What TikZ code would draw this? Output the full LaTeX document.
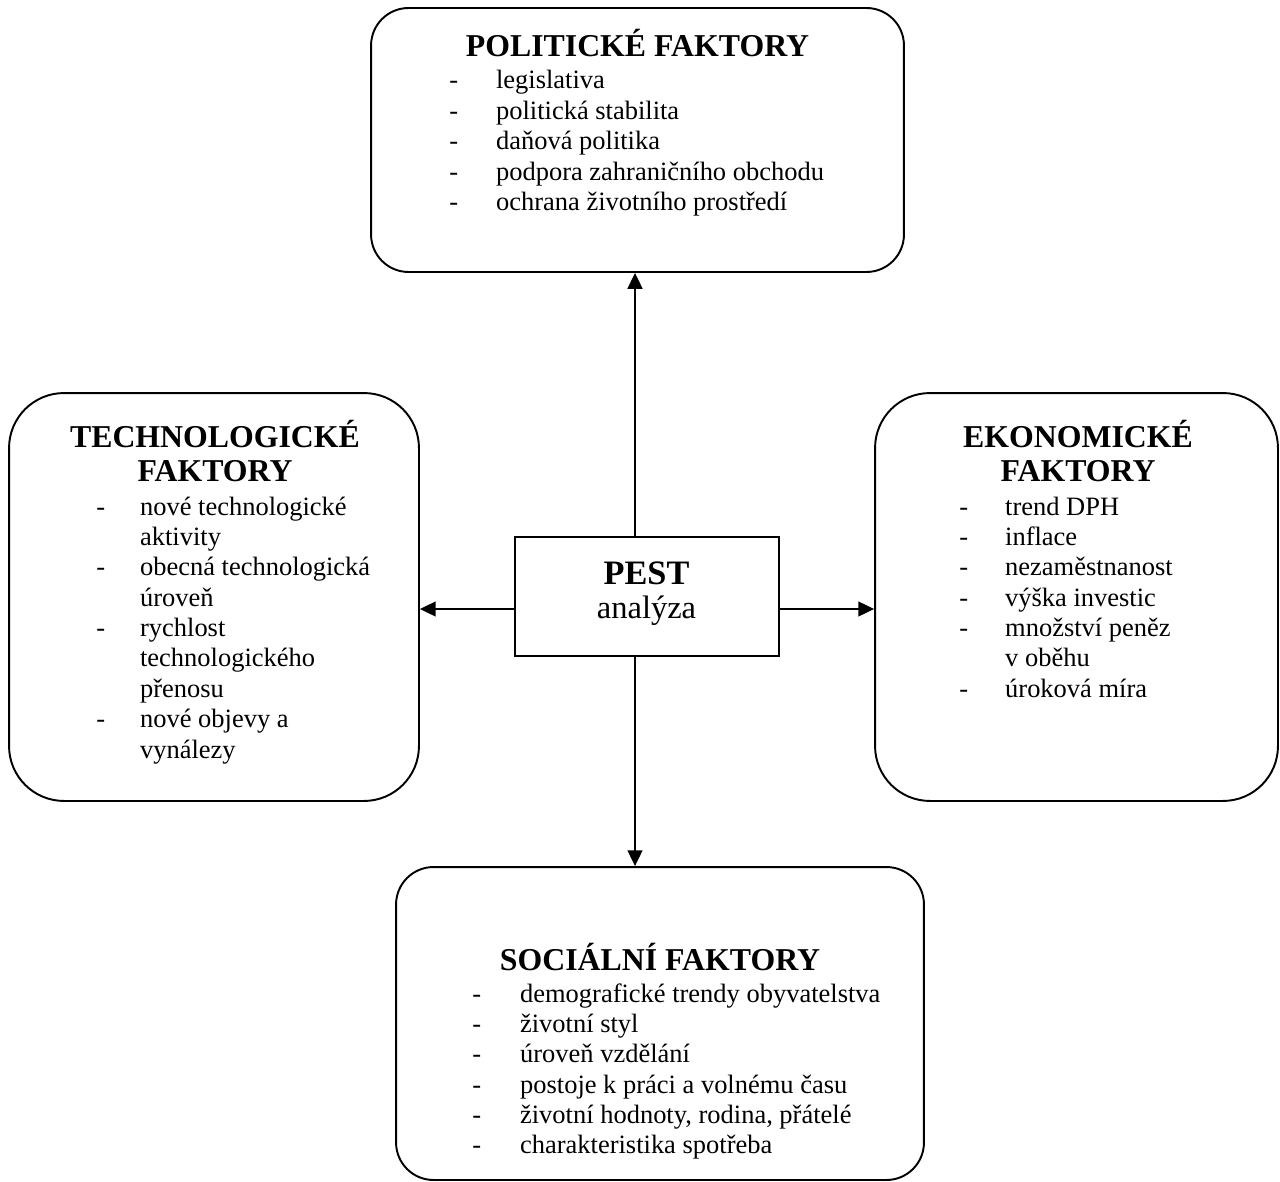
\documentclass[tikz,border=0pt]{standalone}
\usepackage{fontspec}
\setmainfont{Liberation Serif}
\usetikzlibrary{arrows.meta}

\tikzset{
  ramec/.style={draw, line width=1.1pt, inner sep=0pt, rounded corners=#1},
  nadpis/.style={anchor=base, inner sep=0pt, font=\fontsize{18.1}{19.8}\selectfont\bfseries},
  seznam/.style={anchor=base west, inner sep=0pt, font=\fontsize{15.07}{17.3}\selectfont},
  sipka/.style={line width=0.9pt, -{Triangle[length=9pt,width=8.5pt]}}
}

\begin{document}
\begin{tikzpicture}[x=0.02cm, y=-0.02cm]
  \useasboundingbox (0,0) rectangle (1280,1182);

  \node (pol) [ramec=0.75cm, minimum width=10.66cm, minimum height=5.28cm] at (637.5,140) {};
  \node (tech) [ramec=1.1cm, minimum width=8.2cm, minimum height=8.16cm] at (214,597) {};
  \node (eko) [ramec=1.1cm, minimum width=8.06cm, minimum height=8.16cm] at (1076.5,597) {};
  \node (soc) [ramec=0.75cm, minimum width=10.56cm, minimum height=6.26cm] at (660,1023.5) {};
  \node (pest) [ramec=0cm, minimum width=5.28cm, minimum height=2.38cm] at (647,596.5) {};

  \node (polN) [nadpis] at (637.5,57) {\begin{tabular}[t]{@{}c@{}}POLITICKÉ FAKTORY\end{tabular}};
  \node (polS) [seznam] at (449,89) {\begin{tabular}[t]{@{}p{26.6pt}@{}l@{}}
    - & legislativa\\
    - & politická stabilita\\
    - & daňová politika\\
    - & podpora zahraničního obchodu\\
    - & ochrana životního prostředí
  \end{tabular}};

  \node (techN) [nadpis] at (215,447) {\begin{tabular}[t]{@{}c@{}}TECHNOLOGICKÉ\\ FAKTORY\end{tabular}};
  \node (techS) [seznam] at (96,515) {\begin{tabular}[t]{@{}p{24.9pt}@{}l@{}}
    - & nové technologické\\
      & aktivity\\
    - & obecná technologická\\
      & úroveň\\
    - & rychlost\\
      & technologického\\
      & přenosu\\
    - & nové objevy a\\
      & vynálezy
  \end{tabular}};

  \node (ekoN) [nadpis] at (1078,447) {\begin{tabular}[t]{@{}c@{}}EKONOMICKÉ\\ FAKTORY\end{tabular}};
  \node (ekoS) [seznam] at (959,515) {\begin{tabular}[t]{@{}p{26.1pt}@{}l@{}}
    - & trend DPH\\
    - & inflace\\
    - & nezaměstnanost\\
    - & výška investic\\
    - & množství peněz\\
      & v oběhu\\
    - & úroková míra
  \end{tabular}};

  \node (socN) [nadpis] at (660,970) {\begin{tabular}[t]{@{}c@{}}SOCIÁLNÍ FAKTORY\end{tabular}};
  \node (socS) [seznam] at (472,1002) {\begin{tabular}[t]{@{}p{27.2pt}@{}l@{}}
    - & demografické trendy obyvatelstva\\
    - & životní styl\\
    - & úroveň vzdělání\\
    - & postoje k práci a volnému času\\
    - & životní hodnoty, rodina, přátelé\\
    - & charakteristika spotřeba
  \end{tabular}};

  \node (pestN) [anchor=base, inner sep=0pt, font=\fontsize{19.5}{22}\selectfont\bfseries] at (646.5,584) {PEST};
  \node (pestA) [anchor=base, inner sep=0pt, font=\fontsize{18.5}{22}\selectfont] at (646.5,618) {analýza};

  \coordinate (osa) at (635,609);
  \draw[sipka] (pest.north -| osa) -- (pol.south -| osa);
  \draw[sipka] (pest.south -| osa) -- (soc.north -| osa);
  \draw[sipka] (pest.west |- osa) -- (tech.east |- osa);
  \draw[sipka] (pest.east |- osa) -- (eko.west |- osa);
\end{tikzpicture}
\end{document}
